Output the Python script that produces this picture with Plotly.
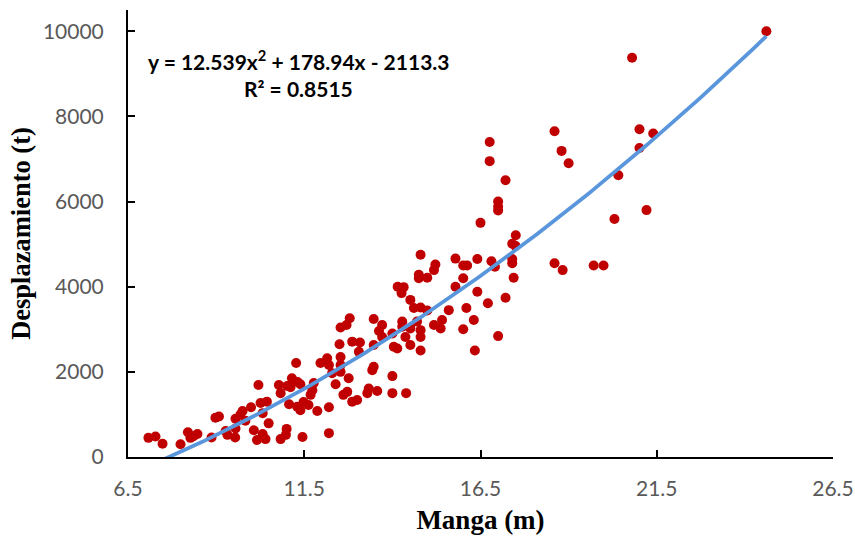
import numpy as np
import plotly.graph_objects as go

# Manga (m) and Desplazamiento (t)
manga = [7.08, 7.28, 7.48, 7.99, 8.20, 8.27, 8.36, 8.47, 8.87, 8.98, 9.08, 9.27, 9.32, 9.54, 9.55, 9.55,
         9.69, 9.75, 9.83, 9.99, 10.07, 10.16, 10.20, 10.26, 10.32, 10.32, 10.40, 10.44, 10.49, 10.78,
         10.83, 11.00, 10.98, 10.83, 11.02, 11.11, 11.07, 11.15, 11.27, 11.30, 11.31, 11.39, 11.39, 11.48,
         11.45, 11.62, 11.68, 11.73, 11.77, 11.87, 11.96, 12.15, 12.20, 12.20, 12.20, 12.29, 12.39, 12.50,
         12.53, 12.53, 12.53, 12.53, 12.70, 12.79, 12.61, 12.72, 12.76, 12.86, 13.00, 12.86, 13.08, 13.05,
         13.29, 13.33, 13.43, 13.47, 13.47, 13.57, 13.47, 13.62, 13.71, 13.71, 14.00, 14.00, 14.00, 14.04,
         14.15, 14.32, 14.26, 14.39, 14.37, 14.14, 14.28, 14.28, 14.51, 14.70, 14.80, 14.80, 14.80, 14.51,
         14.51, 14.61, 14.80, 14.99, 14.75, 14.75, 14.99, 14.80, 15.22, 15.18, 15.18, 15.41, 15.37, 15.60,
         15.79, 16.01, 16.12, 16.01, 15.79, 16.41, 16.10, 16.31, 16.01, 16.34, 16.41, 16.50, 16.76, 16.76,
         17.21, 17.00, 17.00, 17.00, 16.81, 16.91, 16.71, 17.21, 17.00, 17.50, 17.40, 17.49, 17.40, 17.40,
         17.44, 18.60, 18.80, 19.00, 18.60, 18.83, 19.71, 19.99, 20.30, 20.41, 20.80, 21.01, 21.40, 21.01,
         21.21, 24.61]
desplazamiento = [450, 480, 310, 300, 580, 450, 490, 540, 460, 920, 950, 610, 520, 460, 670, 900,
                  1000, 1080, 850, 1170, 630, 400, 1690, 1270, 1030, 540, 420, 1300, 790, 1690,
                  420, 660, 520, 1500, 1670, 1640, 1240, 1850, 2210, 1180, 1760, 1710, 1100, 1290,
                  470, 1220, 1460, 1570, 1740, 1080, 2210, 2320, 2160, 1170, 560, 1970, 1710, 2650,
                  2350, 2160, 2000, 3040, 3100, 3260, 1460, 1530, 1850, 1300, 1340, 2710, 2690, 2470,
                  1500, 1610, 2040, 2120, 2630, 1550, 3240, 2960, 3100, 2820, 2900, 1900, 1500, 2590,
                  4000, 3990, 3850, 1500, 2820, 2550, 3180, 3060, 3020, 3180, 2980, 2820, 2500, 2630,
                  3690, 3500, 3510, 3440, 4280, 4200, 4210, 4750, 4520, 4390, 3100, 3220, 3020, 3450,
                  4660, 4500, 4500, 4200, 4000, 3880, 3500, 3220, 3000, 2500, 4650, 5500, 7400, 6950,
                  6500, 6000, 5880, 5790, 4600, 4470, 3610, 3740, 2840, 5210, 5010, 4960, 4650, 4550,
                  4210, 7650, 7190, 6900, 4550, 4390, 4500, 4500, 5590, 6620, 9380, 7700, 7600, 7260,
                  5800, 10000]

# Polynomial trendline coefficients shown on the chart (a*x^2 + b*x + c)
trend_coef = [12.539, 178.94, -2113.3]
r_squared = 0.8515

x_ticks = [6.5, 11.5, 16.5, 21.5, 26.5]
y_ticks = [0, 2000, 4000, 6000, 8000, 10000]

tx = np.linspace(min(manga), max(manga), 200)
ty = np.polyval(trend_coef, tx)

fig = go.Figure()
fig.add_trace(go.Scatter(x=manga, y=desplazamiento, mode="markers",
                         marker=dict(color="#C00000", size=10, line=dict(width=0)),
                         showlegend=False))
fig.add_trace(go.Scatter(x=tx, y=ty, mode="lines",
                         line=dict(color="#5A96DC", width=3.8), showlegend=False))

axis_common = dict(showgrid=False, zeroline=False, showline=True, linecolor="black", linewidth=2,
                   ticks="inside", ticklen=7, tickwidth=1.5, tickcolor="black", automargin=False,
                   tickfont=dict(family="Lato", size=21, color="#595959"))

fig.update_xaxes(range=[6.5, 26.5], tickvals=x_ticks, ticktext=[str(v) for v in x_ticks],
                 ticklabelstandoff=12,
                 title=dict(text="<b>Manga (m)</b>", font=dict(family="Liberation Serif", size=27, color="black"),
                            standoff=11),
                 **axis_common)
fig.update_yaxes(range=[0, 10500], tickvals=y_ticks, ticktext=[str(v) for v in y_ticks],
                 ticklabelstandoff=18,
                 title=dict(text="<b>Desplazamiento (t)</b>", font=dict(family="Liberation Serif", size=26.5, color="black"),
                            standoff=5),
                 **axis_common)

a, b, c = trend_coef
eq_text = f"<b>y = {a}x<sup>2</sup> + {b}x - {abs(c)}</b>"
r2_text = f"<b>R² = {r_squared}</b>"
fig.add_annotation(text=eq_text, xref="paper", yref="paper", x=0.2425, y=0.888, showarrow=False,
                   font=dict(family="Lato", size=21, color="black"), xanchor="center", yanchor="middle")
fig.add_annotation(text=r2_text, xref="paper", yref="paper", x=0.2417, y=0.825, showarrow=False,
                   font=dict(family="Lato", size=21, color="black"), xanchor="center", yanchor="middle")

fig.update_layout(width=855, height=539, margin=dict(l=127.5, r=22, t=10, b=82),
                  plot_bgcolor="white", paper_bgcolor="white")

fig.write_html("out.html")
